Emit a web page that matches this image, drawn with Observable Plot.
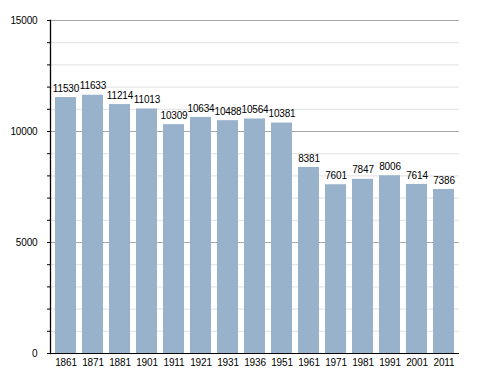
<!DOCTYPE html>
<html>
<head>
<meta charset="utf-8">
<script src="https://cdn.jsdelivr.net/npm/d3@7"></script>
<script src="https://cdn.jsdelivr.net/npm/@observablehq/plot@0.6"></script>
<style>
  body { margin: 0; background: #fff; }
</style>
</head>
<body>
<div id="chart"></div>
<script>
const years = ["1861","1871","1881","1901","1911","1921","1931","1936","1951","1961","1971","1981","1991","2001","2011"];
const population = [11530,11633,11214,11013,10309,10634,10488,10564,10381,8381,7601,7847,8006,7614,7386];
const majorTicks = [0,5000,10000,15000];
const minorTicks = [1000,2000,3000,4000,6000,7000,8000,9000,11000,12000,13000,14000];

const data = years.map((y, i) => ({year: y, value: population[i]}));
const allTicks = majorTicks.concat(minorTicks).sort((a, b) => a - b);

const chart = Plot.plot({
  width: 488,
  height: 373,
  marginLeft: 50,
  marginRight: 29,
  marginTop: 20,
  marginBottom: 20,
  style: {fontFamily: "'Liberation Sans', Arial, sans-serif", fontSize: "10px", background: "#fff", color: "#000", letterSpacing: "-0.15px"},
  x: {domain: years, paddingInner: 0.24, paddingOuter: 0.03, label: null},
  y: {domain: [0, 15000], label: null},
  marks: [
    Plot.ruleY(minorTicks, {stroke: "#e0e0e0", strokeWidth: 1}),
    Plot.ruleY(majorTicks, {stroke: "#a8a8a8", strokeWidth: 1}),
    Plot.barY(data, {x: "year", y: "value", fill: "#98b2cc"}),
    Plot.text(data, {x: "year", y: "value", text: d => String(d.value), dy: -9, fill: "#000", fontSize: 10}),
    Plot.axisX({tickSize: 0, tickPadding: 5, fontSize: 10}),
    Plot.axisY({ticks: allTicks, tickSize: 3, tickPadding: 10, tickFormat: d => (d % 5000 === 0 ? String(d) : ""), fontSize: 10, stroke: "#000", strokeOpacity: 1}),
    Plot.ruleY([0], {stroke: "#000", strokeWidth: 1.2}),
    Plot.frame({anchor: "left", stroke: "#000", strokeOpacity: 1, strokeWidth: 1.3})
  ]
});
document.getElementById("chart").append(chart);
</script>
</body>
</html>
